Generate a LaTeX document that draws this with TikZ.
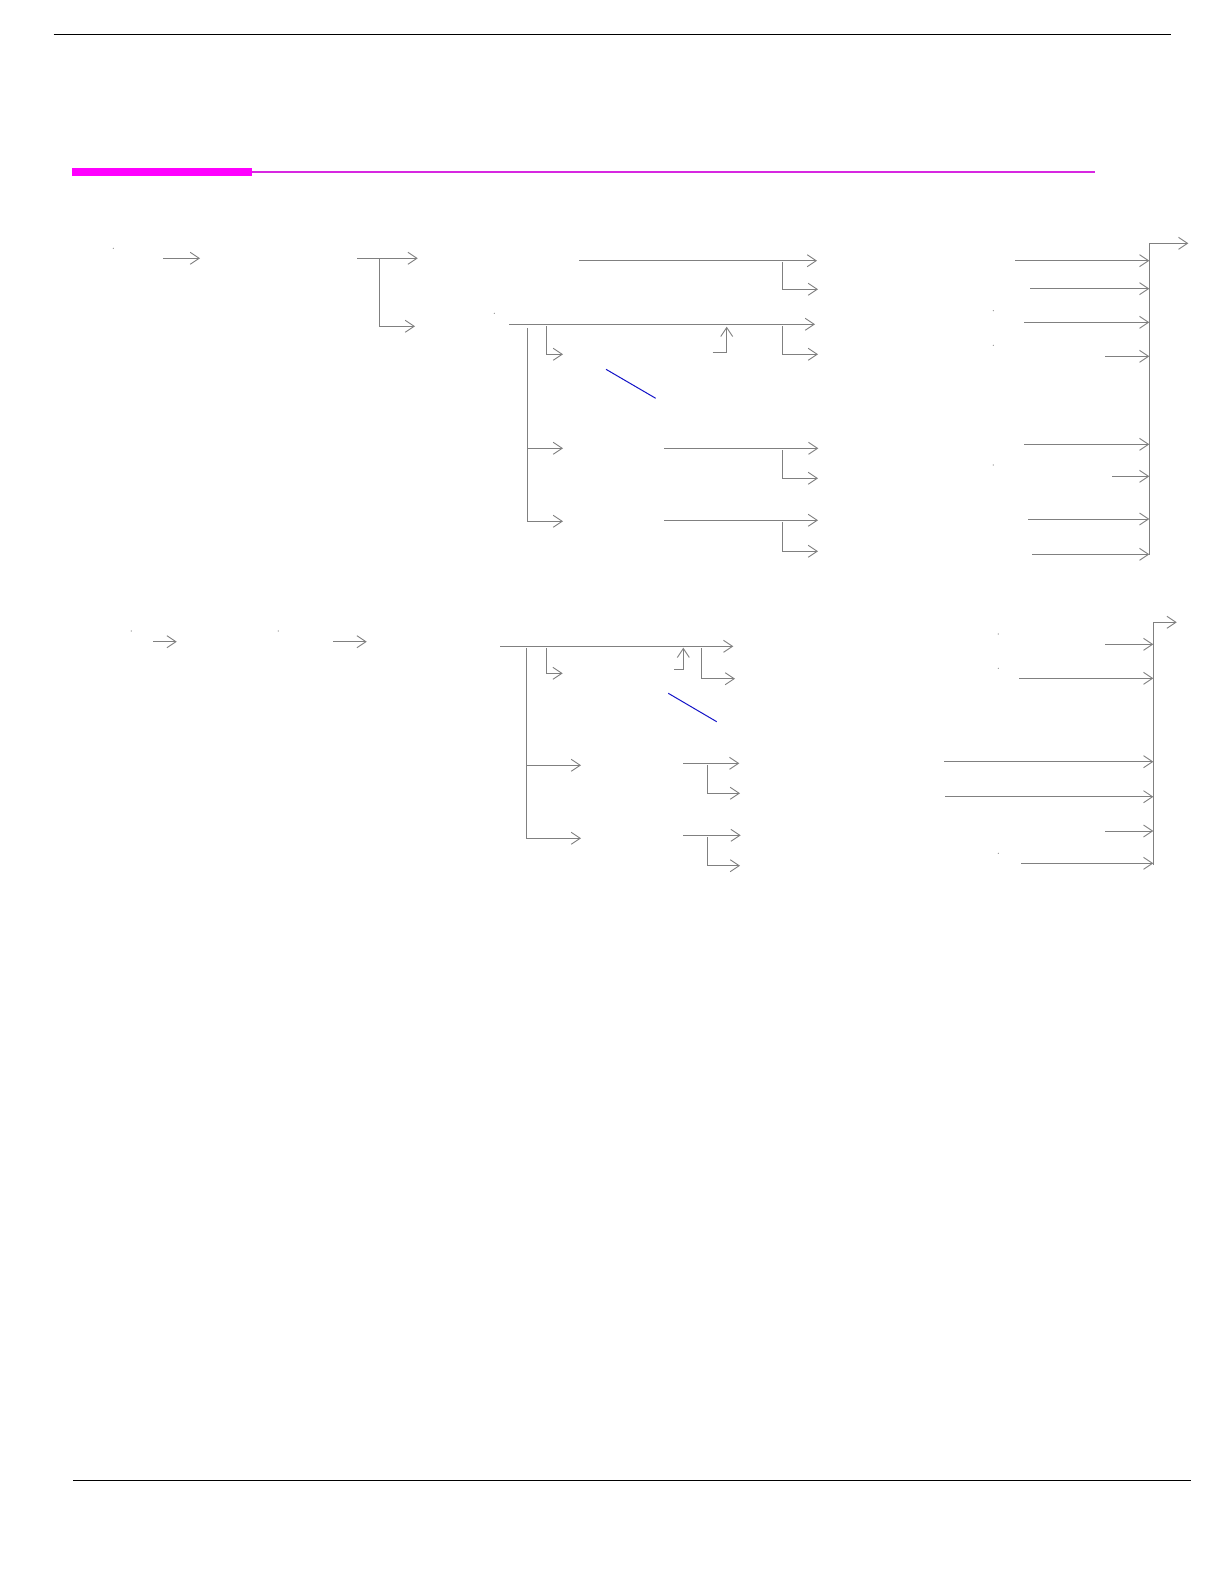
\documentclass[tikz,border=0pt]{standalone}
\usetikzlibrary{arrows.meta}
\definecolor{ln}{RGB}{128,128,128}
\definecolor{mg}{RGB}{255,0,255}
\definecolor{mgthin}{RGB}{215,40,225}
\definecolor{bl}{RGB}{20,20,200}
\begin{document}
\begin{tikzpicture}[x=1pt,y=-1pt,
  conn/.style={draw=ln,line width=0.9pt},
  arr/.style={conn,-{Straight Barb[length=9pt,width=12pt]}},
  bluebar/.style={draw=bl,line width=1pt},
  dotmark/.style={fill=ln}]
\useasboundingbox (0,0) rectangle (1224,1582);
\fill[white] (0,0) rectangle (1224,1582);
% page rules
\draw[black,line width=1.2pt] (53.5,34.3) -- (1171,34.3);
\fill[mg] (72,168) rectangle (252,175.7);
\draw[mgthin,line width=2pt] (252,172) -- (1095,172);
\draw[black,line width=1.2pt] (73,1480.7) -- (1191,1480.7);
% dots
\foreach \p in {(113.3,248.3),(494.3,313.3),(993.3,310.7),(993.3,345.3),(993.3,465),
  (131.3,631),(278.3,631),(998.3,634),(998.3,668.3),(998.3,853.3)}
  \fill[dotmark] \p circle (0.6);
% ---- top diagram ----
\draw[arr] (163.3,258.3) -- (200,258.3);
\draw[arr] (357.3,258.3) -- (417.7,258.3);
\draw[arr] (379.3,258.3) |- (415,326.3);
\draw[arr] (579,260.7) -- (817,260.7);
\draw[arr] (782,262) |- (818,289.3);
\draw[arr] (509,324.3) -- (815,324.3);
\draw[arr] (782,326) |- (818,354.3);
\draw[arr] (546.7,326) |- (563,354.3);
\draw[arr] (527.5,328) |- (563,521.3);
\draw[arr] (527.5,448.3) -- (563,448.3);
\draw[arr] (712.7,352.3) -| (726.7,326.7);
\draw[bluebar] (606,369.3) -- (655.7,398.3);
\draw[arr] (664,448.3) -- (818.3,448.3);
\draw[arr] (782.3,450) |- (818,478.3);
\draw[arr] (664,520.3) -- (818,520.3);
\draw[arr] (782.3,522) |- (818,551.3);
% right bus top
\draw[arr] (1149.3,555) -- (1149.3,243.3) -- (1188.3,243.3);
\foreach \x/\y in {1015/260.7,1030/288.7,1024/322.3,1105/356.3,1024/444.3,1112/476.3,1028/519,1032/554.3}
  \draw[arr] (\x,\y) -- (1149.3,\y);
% ---- bottom diagram ----
\draw[arr] (153.3,641.7) -- (176.7,641.7);
\draw[arr] (333.3,641.7) -- (366.7,641.7);
\draw[arr] (500,646.3) -- (733.3,646.3);
\draw[arr] (546.7,648) |- (562.7,673.3);
\draw[arr] (526,648) |- (581,838.3);
\draw[arr] (526,765.3) -- (581,765.3);
\draw[arr] (674.3,669.3) -| (683.3,647.7);
\draw[arr] (701.3,648) |- (735,678.7);
\draw[bluebar] (668.3,693.3) -- (716.7,721.7);
\draw[arr] (683.3,763.3) -- (739.3,763.3);
\draw[arr] (707.3,765) |- (740,793.3);
\draw[arr] (683.3,835.3) -- (740.7,835.3);
\draw[arr] (707.3,837) |- (740,865.7);
% right bus bottom
\draw[arr] (1153.3,865) -- (1153.3,622.3) -- (1176.7,622.3);
\foreach \x/\y in {1105/644.3,1019/678.3,944/761.7,945/796.7,1105/831,1021/863.3}
  \draw[arr] (\x,\y) -- (1153.3,\y);
\end{tikzpicture}
\end{document}
